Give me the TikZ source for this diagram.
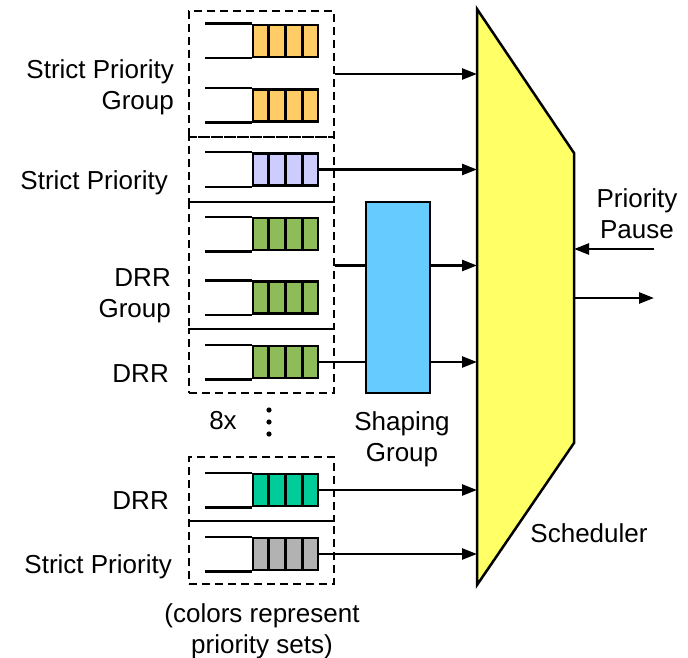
\documentclass[tikz,border=0pt]{standalone}
\usepackage{fontspec}
\setmainfont{Liberation Sans}
\usetikzlibrary{arrows.meta,calc}

\definecolor{spgold}{RGB}{255,204,102}
\definecolor{splav}{RGB}{204,204,255}
\definecolor{drrgreen}{RGB}{141,188,88}
\definecolor{drrteal}{RGB}{0,204,153}
\definecolor{spgray}{RGB}{178,178,178}
\definecolor{schedyellow}{RGB}{255,255,102}
\definecolor{shapeblue}{RGB}{102,204,255}

\tikzset{
  lbl/.style={font=\fontsize{26}{31}\selectfont, inner sep=0pt},
  qline/.style={line width=2.5pt},
  cellbox/.style={draw, line width=2.5pt, inner sep=0pt, minimum width=65pt, minimum height=32pt},
  groupbox/.style={draw, dashed, dash pattern=on 8pt off 5pt, line width=2.5pt, inner sep=0pt, minimum width=145pt},
  flow/.style={line width=2.5pt, -{Triangle[length=15pt,width=11pt]}},
  schedshape/.style={draw, line width=2.5pt, fill=schedyellow, line join=miter},
}

% one queue: name, vertical centre, fill colour
\newcommand\drawqueue[3]{%
  \node[cellbox, fill=#3] (#1) at (285.5,#2) {};
  \draw[qline] (#1.north west) -- ++(-47,0);
  \draw[qline] (#1.south west) -- ++(-47,0);
  \foreach \k in {1,2,3}
    \draw[qline] ($(#1.north west)!\k/4!(#1.north east)$) -- ($(#1.south west)!\k/4!(#1.south east)$);
}

\begin{document}
\begin{tikzpicture}[x=1pt,y=-1pt]
\useasboundingbox (0,0) rectangle (688,658);

% scheduler
\draw[schedshape] (477,9) -- (574,153) -- (574,443) -- (477,585) -- cycle;
\coordinate (schedin) at (477,0);
\coordinate (schedout) at (574,0);

% shaping group
\node[draw, line width=2.5pt, fill=shapeblue, minimum width=64pt, minimum height=191pt, inner sep=0pt] (shape) at (398,297.5) {};

% queues
\drawqueue{q1}{41}{spgold}
\drawqueue{q2}{105.5}{spgold}
\drawqueue{q3}{169.5}{splav}
\drawqueue{q4}{234}{drrgreen}
\drawqueue{q5}{297.5}{drrgreen}
\drawqueue{q6}{362}{drrgreen}
\drawqueue{q7}{490}{drrteal}
\drawqueue{q8}{554}{spgray}

% dashed groupings
\node[groupbox, minimum height=126pt] (g1) at (261.5,74) {};
\node[groupbox, minimum height=65pt] (g2) at (261.5,169.5) {};
\node[groupbox, minimum height=127pt] (g3) at (261.5,265.5) {};
\node[groupbox, minimum height=64pt] (g4) at (261.5,361) {};
\node[groupbox, minimum height=64pt] (g5) at (261.5,489) {};
\node[groupbox, minimum height=63pt] (g6) at (261.5,552.5) {};

% connectors into the scheduler
\draw[flow] (g1.east) -- (g1.east -| schedin);
\draw[flow] (q3.east) -- (q3.east -| schedin);
\draw[qline] (g3.east) -- (g3.east -| shape.west);
\draw[flow] (g3.east -| shape.east) -- (g3.east -| schedin);
\draw[qline] (q6.east) -- (q6.east -| shape.west);
\draw[flow] (q6.east -| shape.east) -- (q6.east -| schedin);
\draw[flow] (q7.east) -- (q7.east -| schedin);
\draw[flow] (q8.east) -- (q8.east -| schedin);

% pause input and scheduler output
\coordinate (ppsrc) at (654,249);
\coordinate (outdst) at (654,298);
\draw[flow] (ppsrc) -- (ppsrc -| schedout);
\draw[flow] (outdst -| schedout) -- (outdst);

% ellipsis
\fill (269,410) circle (2.6);
\fill (269,422) circle (2.6);
\fill (269,434) circle (2.6);

% labels (base anchor of a two-line node is the second line's baseline)
\node[lbl, anchor=base east, align=right] (l1) at (174,110) {Strict Priority\\Group};
\node[lbl, anchor=base east] (l2) at (168,189) {Strict Priority};
\node[lbl, anchor=base east, align=right] (l3) at (171,317) {DRR\\Group};
\node[lbl, anchor=base east] (l4) at (169,382) {DRR};
\node[lbl, anchor=base east] (l5) at (169,509) {DRR};
\node[lbl, anchor=base east] (l6) at (172,573) {Strict Priority};
\node[lbl, anchor=base] (l8x) at (223,429) {8x};
\node[lbl, anchor=base, align=center] (lshape) at (402,461) {Shaping\\Group};
\node[lbl, anchor=base, align=center] (lpause) at (637,238) {Priority\\Pause};
\node[lbl, anchor=base] (lsched) at (589,542) {Scheduler};
\node[lbl, anchor=base, align=center] (lnote) at (262,653) {(colors represent\\priority sets)};
\end{tikzpicture}
\end{document}
